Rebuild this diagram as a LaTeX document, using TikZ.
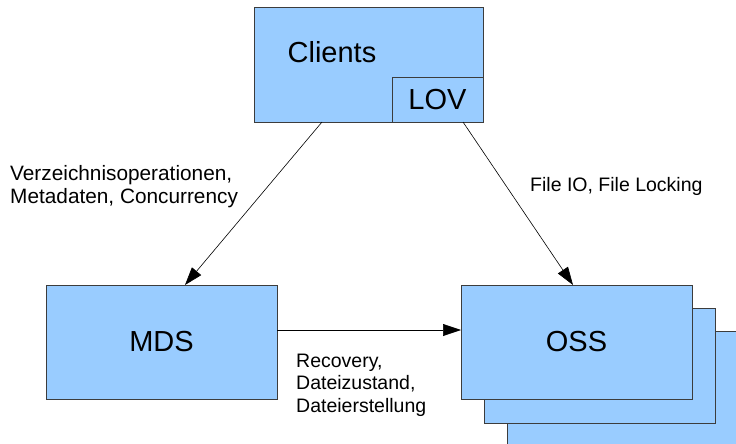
\documentclass[tikz,border=0pt]{standalone}
\usepackage{fontspec}
\setmainfont{Liberation Sans}
\usetikzlibrary{arrows.meta}
\definecolor{boxblue}{HTML}{99CCFF}
\definecolor{boxline}{HTML}{3C3C3C}
\tikzset{
  box/.style={draw=boxline, fill=boxblue, line width=0.9pt},
  big/.style={font=\fontsize{29}{33}\selectfont, inner sep=0pt},
  lbl/.style={font=\fontsize{19.5}{22.5}\selectfont, align=left, inner sep=0pt, anchor=west},
  conn/.style={line width=0.6pt, -{Triangle[length=18pt, width=12pt]}}
}
\begin{document}
\begin{tikzpicture}[x=1pt, y=-1pt]
\useasboundingbox (0,0) rectangle (736,444);
% OSS stack (back to front)
\draw[box] (507,331) rectangle (745,455);
\draw[box] (484,308) rectangle (715,423);
\draw[box] (461,285) rectangle (692,399);
\node[big] (oss) at (576.5,342) {OSS};
\coordinate (ossL) at (461,330);
\coordinate (ossT) at (573,285);
% MDS
\draw[box] (46,285) rectangle (277,399);
\node[big] (mds) at (161.5,342) {MDS};
\coordinate (mdsR) at (277,330);
\coordinate (mdsT) at (185,285);
% Clients with LOV
\draw[box] (254,7) rectangle (483,122);
\draw[box] (392,77) rectangle (483,122);
\node[big] (clients) at (332,52) {Clients};
\node[big] (lov) at (437.5,99.5) {LOV};
\coordinate (cliA) at (322,122);
\coordinate (cliB) at (463,122);
% connectors
\draw[conn] (cliA) -- (mdsT);
\draw[conn] (cliB) -- (ossT);
\draw[conn] (mdsR) -- (ossL);
% labels
\node[lbl, font=\fontsize{20.8}{23}\selectfont] (l1) at (10,186.5) {Verzeichnisoperationen,\\Metadaten, Concurrency};
\node[lbl] (l2) at (530,186) {File IO, File Locking};
\node[lbl] (l3) at (296,385) {Recovery,\\Dateizustand,\\Dateierstellung};
\end{tikzpicture}
\end{document}
